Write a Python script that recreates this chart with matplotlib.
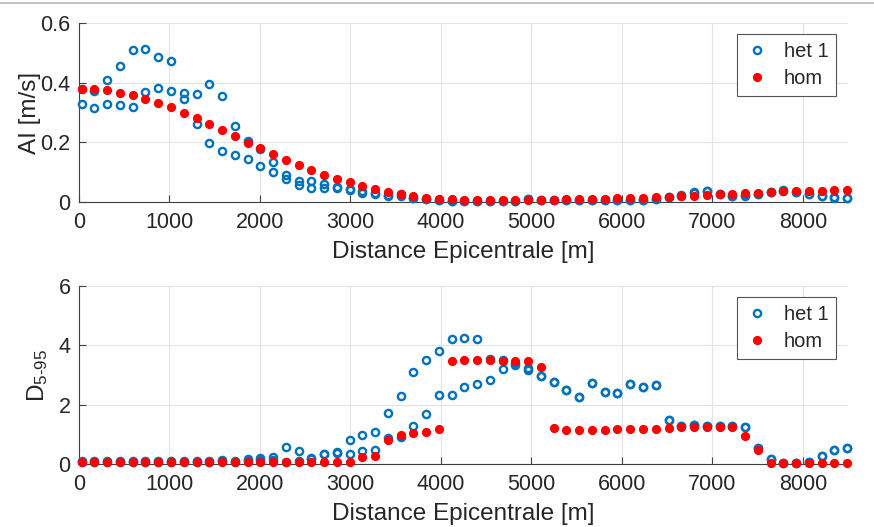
import numpy as np
import matplotlib
matplotlib.use("Agg")
import matplotlib.pyplot as plt
from matplotlib.lines import Line2D

plt.rcParams['font.family'] = ['Liberation Sans', 'DejaVu Sans']
plt.rcParams['mathtext.fontset'] = 'custom'
plt.rcParams['mathtext.rm'] = 'Liberation Sans'
plt.rcParams['mathtext.it'] = 'Liberation Sans'

# ---------------- data ----------------
x_dist = [30 + 141 * i for i in range(61)]

hom_AI = [0.38, 0.38, 0.374, 0.367, 0.359, 0.345, 0.332, 0.317, 0.299, 0.281,
          0.261, 0.241, 0.22, 0.199, 0.18, 0.161, 0.141, 0.123, 0.107, 0.092,
          0.078, 0.066, 0.054, 0.043, 0.035, 0.028, 0.02, 0.015, 0.011, 0.009,
          0.008, 0.007, 0.006, 0.006, 0.006, 0.007, 0.007, 0.008, 0.009, 0.009,
          0.01, 0.011, 0.012, 0.013, 0.015, 0.016, 0.017, 0.019, 0.021, 0.024,
          0.027, 0.028, 0.029, 0.031, 0.034, 0.036, 0.036, 0.037, 0.038, 0.039,
          0.039]

het1_AI_a = [0.38, 0.373, 0.409, 0.456, 0.51, 0.512, 0.485, 0.472, 0.366, 0.363,
             0.394, 0.354, 0.254, 0.206, 0.178, 0.133, 0.09, 0.07, 0.072, 0.06,
             0.05, 0.043, 0.036, 0.029, 0.023, 0.027, 0.012, 0.01, 0.007, 0.005,
             0.004, 0.004, 0.004, 0.004, 0.005, 0.01, 0.008, 0.008, 0.008, 0.007,
             0.007, 0.008, 0.008, 0.007, 0.008, 0.01, 0.017, 0.022, 0.032, 0.038,
             0.028, 0.019, 0.022, 0.027, 0.034, 0.039, 0.035, 0.027, 0.019, 0.016,
             0.012]

het1_AI_b = [0.33, 0.315, 0.33, 0.325, 0.319, 0.37, 0.381, 0.373, 0.346, 0.263,
             0.199, 0.17, 0.157, 0.144, 0.121, 0.101, 0.076, 0.056, 0.048, 0.047,
             0.047, 0.041, 0.031, 0.028, 0.021, 0.02, 0.012, 0.009, 0.006, 0.005,
             0.004, 0.004, 0.004, 0.004, 0.005, 0.009, 0.008, 0.008, 0.008, 0.007,
             0.007, 0.008, 0.008, 0.007, 0.008, 0.01, 0.016, 0.021, 0.03, 0.036,
             0.027, 0.019, 0.021, 0.026, 0.033, 0.038, 0.034, 0.026, 0.019, 0.015,
             0.012]

hom_D = [0.06, 0.06, 0.06, 0.06, 0.06, 0.06, 0.06, 0.06, 0.06, 0.06,
         0.06, 0.06, 0.06, 0.06, 0.06, 0.06, 0.06, 0.06, 0.06, 0.06,
         0.06, 0.07, 0.22, 0.28, 0.81, 0.99, 1.04, 1.07, 1.17, 3.47,
         3.49, 3.51, 3.52, 3.48, 3.47, 3.46, 3.27, 1.2, 1.16, 1.16,
         1.16, 1.16, 1.17, 1.19, 1.19, 1.19, 1.23, 1.24, 1.25, 1.24,
         1.24, 1.24, 0.95, 0.48, 0.05, 0.05, 0.05, 0.05, 0.05, 0.05,
         0.05]

het1_D_a = [0.09, 0.09, 0.09, 0.09, 0.09, 0.09, 0.09, 0.09, 0.09, 0.09,
            0.1, 0.12, 0.1, 0.16, 0.2, 0.23, 0.56, 0.43, 0.19, 0.35,
            0.39, 0.82, 0.97, 1.08, 1.71, 2.29, 3.09, 3.52, 3.81, 4.2,
            4.25, 4.21, 3.55, 3.52, 3.41, 3.24, 2.98, 2.78, 2.48, 2.25,
            2.74, 2.42, 2.38, 2.68, 2.59, 2.67, 1.48, 1.27, 1.31, 1.28,
            1.28, 1.28, 1.26, 0.53, 0.18, 0.05, 0.05, 0.07, 0.28, 0.47,
            0.54]

het1_D_b = [0.08, 0.08, 0.08, 0.08, 0.08, 0.08, 0.08, 0.08, 0.08, 0.08,
            0.08, 0.09, 0.08, 0.1, 0.12, 0.14, 0.07, 0.09, 0.17, 0.35,
            0.36, 0.35, 0.43, 0.47, 0.88, 0.9, 1.28, 1.68, 2.34, 2.34,
            2.59, 2.68, 2.84, 3.21, 3.33, 3.16, 2.98, 2.78, 2.48, 2.25,
            2.74, 2.42, 2.38, 2.68, 2.59, 2.67, 1.48, 1.27, 1.31, 1.28,
            1.28, 1.28, 1.26, 0.53, 0.18, 0.05, 0.05, 0.07, 0.28, 0.47,
            0.54]

x_ticks = [0, 1000, 2000, 3000, 4000, 5000, 6000, 7000, 8000]
ai_ticks = [0, 0.2, 0.4, 0.6]
ai_ticklabels = ['0', '0.2', '0.4', '0.6']
d_ticks = [0, 2, 4, 6]
series_names = ['het 1', 'hom']

# ---------------- styling ----------------
BLUE = '#0072BD'
RED = '#FF0000'
AX_COL = '#404040'
TXT = '#262626'

fig = plt.figure(figsize=(8.74, 5.27), dpi=100)
fig.add_artist(Line2D([0, 1], [0.994, 0.994], transform=fig.transFigure,
                      color='#b8b8b8', lw=1.2))

ax1 = fig.add_axes([79 / 874, 1 - 202 / 527, 769 / 874, 179 / 527])
ax2 = fig.add_axes([79 / 874, 1 - 464 / 527, 769 / 874, 178 / 527])


def style(ax):
    ax.set_xlim(0, 8500)
    ax.set_xticks(x_ticks)
    ax.grid(True, color='#e3e3e3', lw=0.8)
    ax.set_axisbelow(True)
    for s in ['top', 'right']:
        ax.spines[s].set_visible(False)
    for s in ['left', 'bottom']:
        ax.spines[s].set_color(AX_COL)
        ax.spines[s].set_linewidth(0.8)
    ax.tick_params(direction='in', length=5, width=0.8, color=AX_COL,
                   labelcolor=TXT, labelsize=15.5)
    ax.tick_params(axis='x', pad=7)
    ax.tick_params(axis='y', pad=6)
    ax.set_xlabel('Distance Epicentrale [m]', fontsize=17.5, color=TXT, labelpad=6)


def draw(ax, xs, ya, yb, yh):
    xx = list(xs) + list(xs)
    yy = list(ya) + list(yb)
    ax.plot(xx, yy, linestyle='none', marker='o', ms=5.2, mfc='none',
            mec=BLUE, mew=1.7, label=series_names[0], clip_on=False, zorder=3)
    ax.plot(xs, yh, linestyle='none', marker='o', ms=5.8, mfc=RED,
            mec=RED, mew=0.8, label=series_names[1], clip_on=False, zorder=4)
    leg = ax.legend(loc='upper right', bbox_to_anchor=(0.985, 0.94),
                    fontsize=14.5, frameon=True, fancybox=False, framealpha=1,
                    edgecolor='#555555', handlelength=1.2, handletextpad=0.7,
                    borderpad=0.4, labelspacing=0.4, borderaxespad=0)
    leg.get_frame().set_linewidth(0.8)
    for t in leg.get_texts():
        t.set_color(TXT)


draw(ax1, x_dist, het1_AI_a, het1_AI_b, hom_AI)
style(ax1)
ax1.set_ylim(0, 0.6)
ax1.set_yticks(ai_ticks)
ax1.set_yticklabels(ai_ticklabels)
ax1.set_ylabel('AI [m/s]', fontsize=17.5, color=TXT, labelpad=0)

draw(ax2, x_dist, het1_D_a, het1_D_b, hom_D)
style(ax2)
ax2.set_ylim(0, 6)
ax2.set_yticks(d_ticks)
ax2.set_ylabel(r'D$_{5\text{-}95}$', fontsize=17.5, color=TXT, labelpad=6)

fig.savefig('out.png', dpi=100)
